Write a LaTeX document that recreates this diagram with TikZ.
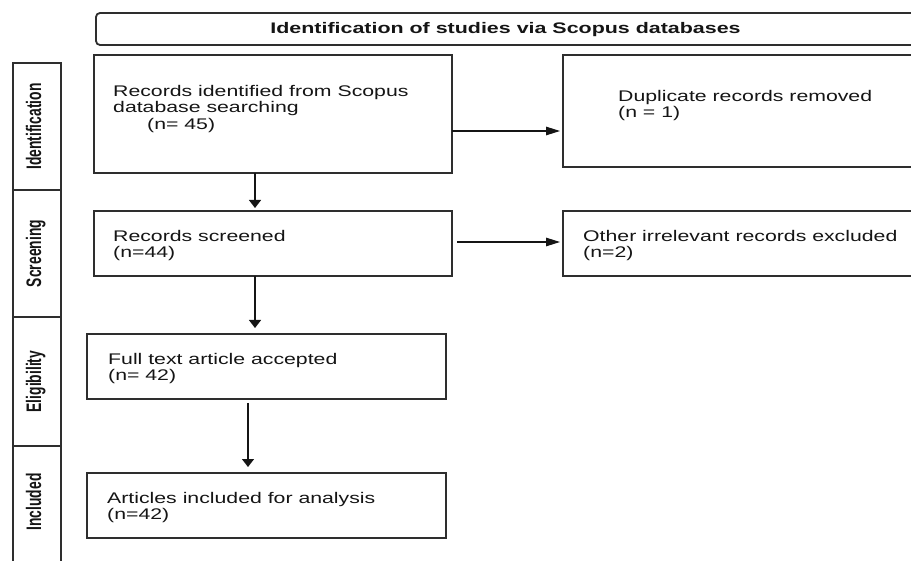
\documentclass[tikz,border=0pt]{standalone}
\usepackage{fontspec}
\usetikzlibrary{arrows.meta}
\newfontfamily\bodyfont[FakeStretch=1.38]{Liberation Sans}
\newfontfamily\titlefont[FakeStretch=1.4]{Liberation Sans Bold}
\newfontfamily\sidefont[FakeStretch=0.66]{Liberation Sans Bold}
\definecolor{edge}{HTML}{2E2E2E}
\definecolor{ink}{HTML}{151515}
\begin{document}
\begin{tikzpicture}[x=1pt,y=-1pt,
  box/.style={draw=edge, line width=1.8pt, inner sep=0pt, outer sep=0pt},
  txt/.style={anchor=north west, inner sep=0pt, align=left, text=ink,
    font=\bodyfont\fontsize{15.4}{16.5}\selectfont},
  cellbox/.style={draw=edge, line width=1.1pt, inner sep=0pt, outer sep=0pt, minimum width=48pt},
  side/.style={rotate=90, anchor=base, inner sep=0pt, text=ink,
    font=\sidefont\fontsize{21}{21}\selectfont},
  vdown/.style={-{Triangle[length=8pt,width=12pt]}, line width=1.3pt, draw=ink},
  hright/.style={-{Triangle[length=14pt,width=8.5pt]}, line width=1.2pt, draw=ink},
]
\useasboundingbox (0,0) rectangle (911,561);
\clip (0,0) rectangle (911,561);
\fill[white] (0,0) rectangle (911,561);

% title
\node[box, rounded corners=4pt, minimum width=820pt, minimum height=32pt] (title) at (506,29) {};
\node[anchor=base, inner sep=0pt, text=ink, font=\titlefont\fontsize{15.3}{15.3}\selectfont] (titletext) at (505.5,34)
  {Identification of studies via Scopus databases};

% left column
\node[cellbox, minimum height=127pt] (c1) at (37,126.5) {};
\node[cellbox, minimum height=127pt] (c2) at (37,253.5) {};
\node[cellbox, minimum height=129pt] (c3) at (37,381.5) {};
\node[cellbox, minimum height=140pt] (c4) at (37,516) {};
\node[side] (l1) at (41,126.5) {Identification};
\node[side] (l2) at (41,253.5) {Screening};
\node[side] (l3) at (41,381.5) {Eligibility};
\node[side] (l4) at (41,502) {Included};

% boxes
\node[box, minimum width=358pt, minimum height=118pt] (b1) at (273,114) {};
\node[box, minimum width=367pt, minimum height=112pt] (b2) at (746.5,111) {};
\node[box, minimum width=358pt, minimum height=65pt] (b3) at (273,243.5) {};
\node[box, minimum width=367pt, minimum height=65pt] (b4) at (746.5,243.5) {};
\node[box, minimum width=359pt, minimum height=65pt] (b5) at (266.5,366.5) {};
\node[box, minimum width=359pt, minimum height=65pt] (b6) at (266.5,505.5) {};

% texts
\node[txt] (t1) at (113,85) {Records identified from Scopus\\database searching\\\hspace*{34pt}(n= 45)};
\node[txt] (t2) at (618,90) {Duplicate records removed\\(n = 1)};
\node[txt] (t3) at (113,230) {Records screened\\(n=44)};
\node[txt] (t4) at (583,230) {Other irrelevant records excluded\\(n=2)};
\node[txt] (t5) at (108,353) {Full text article accepted\\(n= 42)};
\node[txt] (t6) at (107,492) {Articles included for analysis\\(n=42)};

% connectors
\draw[vdown] ([xshift=-18pt]b1.south) -- ([xshift=-18pt,yshift=3pt]b3.north);
\draw[vdown] ([xshift=-18pt]b3.south) -- ([xshift=-11.5pt,yshift=6pt]b5.north);
\draw[vdown] ([xshift=-18.5pt,yshift=-4pt]b5.south) -- ([xshift=-18.5pt,yshift=6pt]b6.north);
\draw[hright] ([yshift=-17pt]b1.east) -- ([xshift=-3pt,yshift=-20pt]b2.west);
\draw[hright] ([xshift=5pt,yshift=1.5pt]b3.east) -- ([xshift=-3pt,yshift=1.5pt]b4.west);
\end{tikzpicture}
\end{document}
